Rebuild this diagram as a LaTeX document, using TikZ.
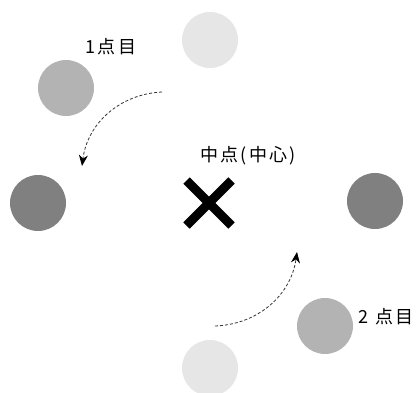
\documentclass[tikz,border=0pt]{standalone}
\usepackage{fontspec}
\setmainfont{Noto Sans CJK JP}
\newfontfamily\tagfont[LetterSpace=13]{Noto Sans CJK JP}
\usepackage{xcolor}
\usepackage{tikz}
\usetikzlibrary{shapes.misc}
\usetikzlibrary{arrows.meta, positioning}

\definecolor{lightdot}{HTML}{E6E6E6}
\definecolor{middot}{HTML}{B3B3B3}
\definecolor{darkdot}{HTML}{808080}

\begin{document}
\begin{tikzpicture}[x=1pt, y=1pt,
    dot/.style = {circle, minimum size=56pt, inner sep=0pt},
    tag/.style = {font=\tagfont\fontsize{18}{18}\selectfont, inner sep=0pt},
    move/.style = {densely dashed, line width=0.8pt, black!80,
        -{Stealth[length=11pt, width=9pt, black]}}]
    \useasboundingbox (0,0) rectangle (420,392);
    \node (start) [dot, fill=lightdot] at (210,352) {};
    \node (p1) [dot, fill=middot] at (66,304) {};
    \node (left) [dot, fill=darkdot] at (38,189) {};
    \node (right) [dot, fill=darkdot] at (375,191) {};
    \node (p2) [dot, fill=middot] at (325,66) {};
    \node (end) [dot, fill=lightdot] at (210,24) {};
    \node (mid) [cross out, draw, line width=9pt, minimum size=36pt, inner sep=0pt] at (209,189) {};
    \node (p1tag) [tag] at (111,345) {1点目};
    \node (midtag) [tag] at (248,236) {中点(中心)};
    \node (p2tag) [tag] at (386,75) {2 点目};
    \coordinate (a1) at (162,300);
    \coordinate (b1) at (82,226);
    \coordinate (a2) at (215,66);
    \coordinate (b2) at (297,140);
    \draw [move] (a1) to [bend right=40] (b1);
    \draw [move] (a2) to [bend right=40] (b2);
\end{tikzpicture}
\end{document}
